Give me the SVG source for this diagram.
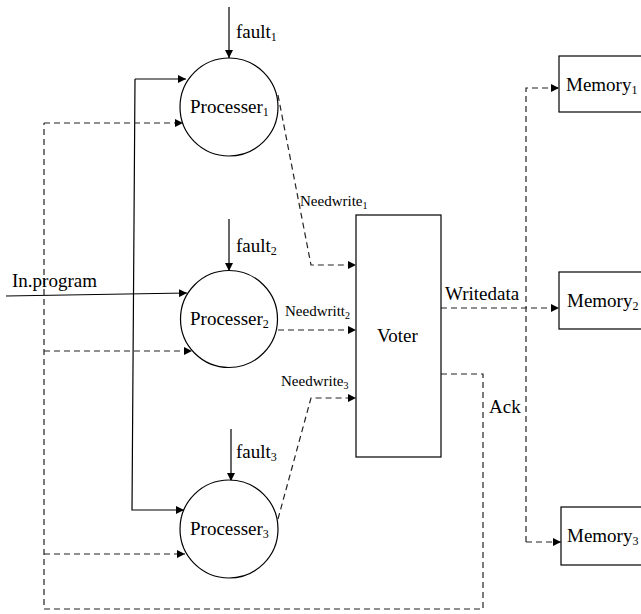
<svg xmlns="http://www.w3.org/2000/svg" width="641" height="614" viewBox="0 0 641 614" font-family="'Liberation Serif', 'Times New Roman', Times, serif">
<style>
text{font-size:19px;fill:#000}
.small{font-size:15px}
.node{fill:#fff;stroke:#000;stroke-width:1.2}
.line{fill:none;stroke:#000;stroke-width:1.2}
.dash{fill:none;stroke:#222;stroke-width:1.2;stroke-dasharray:6,4}
</style>
<defs>
<marker id="ah" markerUnits="userSpaceOnUse" markerWidth="8" markerHeight="8" refX="8" refY="4" orient="auto">
<path d="M0,0 L8,4 L0,8 z" fill="#000" stroke="none"/>
</marker>
</defs>
<g id="connectors">
<path class="line" d="M229,7 L229,58" marker-end="url(#ah)"/>
<path class="line" d="M229,219 L229,271" marker-end="url(#ah)"/>
<path class="line" d="M231,429 L231,481" marker-end="url(#ah)"/>
<path class="line" d="M135,79 L186,79" marker-end="url(#ah)"/>
<path class="line" d="M135,79 L132,510 L184,510" marker-end="url(#ah)"/>
<path class="line" d="M6,296 L187,293" marker-end="url(#ah)"/>
<path class="dash" d="M44,123 L183,123" marker-end="url(#ah)"/>
<path class="dash" d="M44,351 L192,351" marker-end="url(#ah)"/>
<path class="dash" d="M44,554 L185,554" marker-end="url(#ah)"/>
<path class="dash" d="M441,374 L483,374 L483,609 L44,609 L44,123"/>
<path class="dash" d="M278,95 L311,265 L356,265" marker-end="url(#ah)"/>
<path class="dash" d="M278,330 L356,330" marker-end="url(#ah)"/>
<path class="dash" d="M278,519 L311,398 L356,398" marker-end="url(#ah)"/>
<path class="dash" d="M441,308 L559,308" marker-end="url(#ah)"/>
<path class="dash" d="M526,542 L526,88 L559,88" marker-end="url(#ah)"/>
<path class="dash" d="M526,542 L561,542" marker-end="url(#ah)"/>
</g>
<g id="processer1">
<circle class="node" cx="229" cy="107" r="49"/>
<text x="190" y="113">Processer<tspan font-size="12" dy="3">1</tspan></text>
</g>
<g id="processer2">
<circle class="node" cx="229" cy="319" r="48.5"/>
<text x="190" y="325">Processer<tspan font-size="12" dy="3">2</tspan></text>
</g>
<g id="processer3">
<circle class="node" cx="229" cy="529" r="49"/>
<text x="190" y="535">Processer<tspan font-size="12" dy="3">3</tspan></text>
</g>
<g id="voter">
<rect class="node" x="356" y="215" width="85" height="242"/>
<text x="377" y="342">Voter</text>
</g>
<g id="memory1">
<rect class="node" x="559" y="56" width="84" height="56"/>
<text x="566" y="91">Memory<tspan font-size="12" dy="3">1</tspan></text>
</g>
<g id="memory2">
<rect class="node" x="559" y="272" width="84" height="57"/>
<text x="567" y="307">Memory<tspan font-size="12" dy="3">2</tspan></text>
</g>
<g id="memory3">
<rect class="node" x="561" y="507" width="84" height="58"/>
<text x="567" y="542">Memory<tspan font-size="12" dy="3">3</tspan></text>
</g>
<g id="labels">
<text x="236" y="38">fault<tspan font-size="12" dy="3">1</tspan></text>
<text x="236" y="252">fault<tspan font-size="12" dy="3">2</tspan></text>
<text x="236" y="458">fault<tspan font-size="12" dy="3">3</tspan></text>
<text x="12" y="287">In.program</text>
<text class="small" x="300" y="206">Needwrite<tspan font-size="10" dy="3">1</tspan></text>
<text class="small" x="285" y="316">Needwritt<tspan font-size="10" dy="3">2</tspan></text>
<text class="small" x="281" y="386">Needwrite<tspan font-size="10" dy="3">3</tspan></text>
<text x="445" y="300">Writedata</text>
<text x="489" y="413">Ack</text>
</g>
</svg>
